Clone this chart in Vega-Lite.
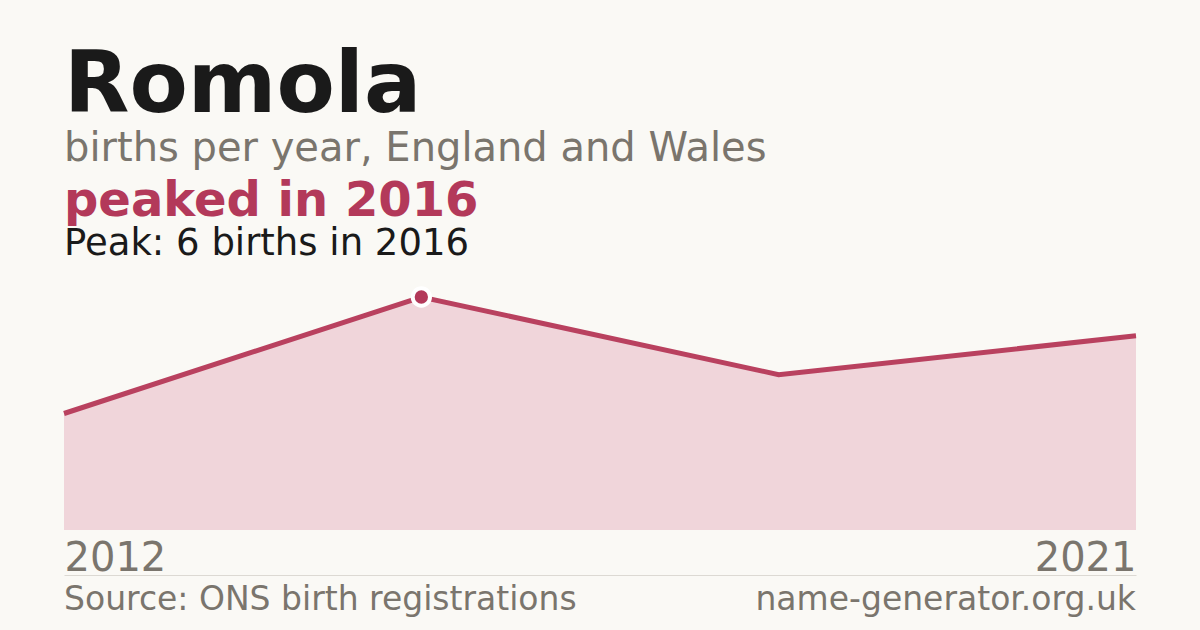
{
  "$schema": "https://vega.github.io/schema/vega-lite/v6.json",
  "background": "#faf9f5",
  "padding": {"left": 54, "right": 64, "top": 44, "bottom": 8},
  "config": {"font": "DejaVu Sans", "view": {"stroke": null}},
  "title": {
    "text": "Romola",
    "subtitle": "births per year, England and Wales",
    "anchor": "start",
    "dx": 10,
    "fontSize": 85,
    "fontWeight": "bold",
    "color": "#1a1a1a",
    "subtitleFontSize": 40,
    "subtitleColor": "#7a756d",
    "subtitlePadding": -1,
    "offset": 8
  },
  "datasets": {
    "births": [
      {"year": 2012, "births": 3},
      {"year": 2016, "births": 6},
      {"year": 2019, "births": 4},
      {"year": 2021, "births": 5}
    ],
    "footer": [
      {"side": "left", "label": "Source: ONS birth registrations"},
      {"side": "right", "label": "name-generator.org.uk"}
    ]
  },
  "bounds": "flush",
  "spacing": 45,
  "vconcat": [
    {
      "width": 1072,
      "height": 233,
      "data": {"name": "births"},
      "title": {
        "text": "peaked in 2016",
        "subtitle": "Peak: 6 births in 2016",
        "anchor": "start",
        "dx": 10,
        "fontSize": 48,
        "fontWeight": "bold",
        "color": "#b3395a",
        "subtitleFontSize": 37,
        "subtitleColor": "#1a1a1a",
        "subtitlePadding": 0,
        "offset": 18
      },
      "encoding": {
        "x": {
          "field": "year",
          "type": "ordinal",
          "sort": "ascending",
          "scale": {"type": "point", "padding": 0},
          "axis": {
            "values": [2012, 2021],
            "labelFlush": true,
            "labelFontSize": 40,
            "labelColor": "#7a756d",
            "ticks": false,
            "domain": false,
            "title": null,
            "labelAngle": 0,
            "labelPadding": 8
          }
        },
        "y": {
          "field": "births",
          "type": "quantitative",
          "scale": {"domain": [0, 6]},
          "axis": null
        }
      },
      "layer": [
        {"mark": {"type": "area", "color": "#f0d5da", "opacity": 1}},
        {"mark": {"type": "line", "color": "#b9415f", "strokeWidth": 5}},
        {
          "transform": [{"filter": "datum.year == 2016"}],
          "mark": {"type": "point", "filled": true, "color": "#b3395a", "size": 300, "stroke": "#ffffff", "strokeWidth": 4, "opacity": 1}
        }
      ]
    },
    {
      "width": 1072,
      "height": 50,
      "data": {"name": "footer"},
      "encoding": {
        "x": {
          "field": "side",
          "type": "nominal",
          "scale": {"type": "point", "domain": ["left", "right"], "padding": 0},
          "axis": {"orient": "top", "labels": false, "ticks": false, "title": null, "domainColor": "#dcd9d3", "domainWidth": 1}
        },
        "text": {"field": "label"}
      },
      "layer": [
        {
          "transform": [{"filter": "datum.side == 'left'"}],
          "mark": {"type": "text", "align": "left", "fontSize": 33, "color": "#7a756d"}
        },
        {
          "transform": [{"filter": "datum.side == 'right'"}],
          "mark": {"type": "text", "align": "right", "fontSize": 33, "color": "#7a756d"}
        }
      ]
    }
  ]
}
